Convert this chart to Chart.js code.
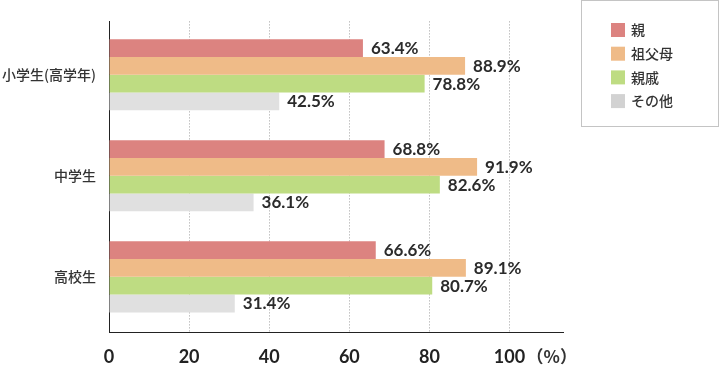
<!DOCTYPE html>
<html><head><meta charset="utf-8">
<script src="https://cdn.jsdelivr.net/npm/chart.js@4/dist/chart.umd.min.js"></script>
<style>html,body{margin:0;padding:0;background:#fff}#wrap{width:720px;height:365px;position:relative}</style>
</head><body><div id="wrap"><canvas id="c" width="720" height="365"></canvas></div>
<script>
const categories = ['小学生(高学年)', '中学生', '高校生'];
const seriesNames = ['親', '祖父母', '親戚', 'その他'];
const parentVals = [63.4, 68.8, 66.6];
const grandparentVals = [88.9, 91.9, 89.1];
const relativeVals = [78.8, 82.6, 80.7];
const otherVals = [42.5, 36.1, 31.4];
const xTickValues = [0, 20, 40, 60, 80, 100];
const unitLabel = '（%）';

const colors = ['#dc8380', '#efbb88', '#bedc82', '#e0e0e0'];
const legendColors = ['#dc8380', '#efbb88', '#bedc82', '#d2d2d2'];
const seriesVals = [parentVals, grandparentVals, relativeVals, otherVals];
const CJK = '"Noto Sans CJK JP", "Noto Sans", sans-serif';

const datasets = seriesVals.map((vals, s) => ({
  label: seriesNames[s],
  data: vals.map((v, i) => ({ x: v, y: i })),
  backgroundColor: colors[s],
  borderWidth: 0,
  categoryPercentage: 0.7037,
  barPercentage: 1
}));

const extras = {
  id: 'extras',
  afterDatasetsDraw(chart) {
    const ctx = chart.ctx;
    ctx.save();
    ctx.font = 'bold 17px Lato, sans-serif';
    ctx.fillStyle = '#2b2b2b';
    ctx.textAlign = 'left';
    ctx.textBaseline = 'middle';
    chart.data.datasets.forEach((ds, di) => {
      const meta = chart.getDatasetMeta(di);
      meta.data.forEach((el, i) => {
        ctx.fillText(ds.data[i].x.toFixed(1) + '%', el.x + 8, el.y + 0.5);
      });
    });
    ctx.restore();
  },
  afterDraw(chart) {
    const ctx = chart.ctx;
    const xs = chart.scales.x;
    ctx.save();
    ctx.font = 'bold 17px ' + CJK;
    ctx.fillStyle = '#333';
    ctx.textAlign = 'left';
    ctx.textBaseline = 'middle';
    ctx.fillText(unitLabel, xs.getPixelForValue(100) + 17, 357);
    ctx.strokeStyle = '#c4c4c4';
    ctx.lineWidth = 1;
    ctx.strokeRect(581.5, 0.5, 137, 126);
    ctx.font = '500 14px ' + CJK;
    chart.data.datasets.forEach((ds, i) => {
      const cy = 30 + i * 23.7;
      ctx.fillStyle = legendColors[i];
      ctx.fillRect(611, cy - 7, 14, 14);
      ctx.fillStyle = '#333';
      ctx.fillText(ds.label, 631, cy);
    });
    ctx.restore();
  }
};

new Chart(document.getElementById('c'), {
  type: 'bar',
  data: { datasets },
  options: {
    indexAxis: 'y',
    responsive: false,
    animation: false,
    layout: { padding: { left: 0, right: 157, top: 0, bottom: 0 } },
    plugins: { legend: { display: false }, tooltip: { enabled: false } },
    scales: {
      x: {
        type: 'linear',
        min: 0,
        max: 113.35,
        offset: false,
        afterBuildTicks: s => { s.ticks = xTickValues.map(v => ({ value: v })); },
        afterFit: s => { s.height = 33; },
        ticks: {
          font: { family: 'Lato, sans-serif', size: 18, weight: 'bold' },
          color: '#222',
          padding: 14,
          callback: v => String(v),
          maxRotation: 0
        },
        grid: {
          drawTicks: false,
          offset: false,
          color: ctx => (ctx.tick && ctx.tick.value === 0) ? 'rgba(0,0,0,0)' : '#a0a0a0',
          lineWidth: 1
        },
        border: { display: true, color: '#222', width: 1, dash: [1, 2] }
      },
      y: {
        type: 'linear',
        reverse: true,
        offset: false,
        min: -0.528,
        max: 2.546,
        afterDataLimits: s => { s.min = -0.528; s.max = 2.546; },
        afterBuildTicks: s => { s.ticks = categories.map((_, i) => ({ value: i })); },
        afterFit: s => { s.width = 109; },
        ticks: {
          font: { family: CJK, size: 14, weight: '500' },
          color: '#333',
          padding: 13,
          autoSkip: false,
          callback: v => categories[v]
        },
        grid: { display: false, drawTicks: false, offset: false },
        border: { display: true, color: '#222', width: 1 }
      }
    }
  },
  plugins: [extras]
});
</script>
</body></html>
